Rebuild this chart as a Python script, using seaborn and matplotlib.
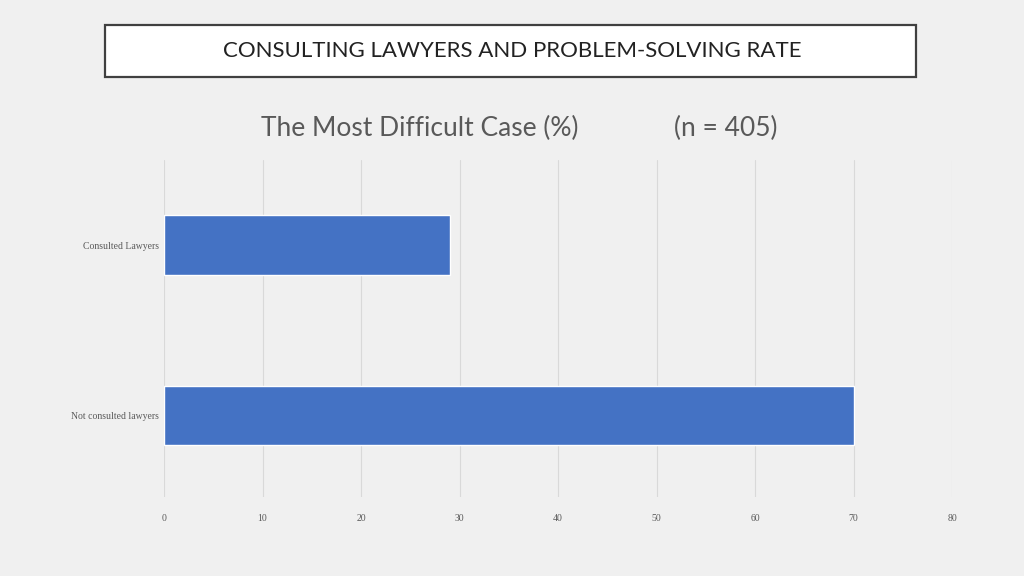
import matplotlib
matplotlib.use("Agg")
import matplotlib.pyplot as plt
import pandas as pd
import seaborn as sns
from matplotlib.patches import Rectangle

categories = ["Consulted Lawyers", "Not consulted lawyers"]
values = [29, 70]
x_ticks = [0, 10, 20, 30, 40, 50, 60, 70, 80]

df = pd.DataFrame({"group": categories, "pct": values})

sns.set_theme(style="white")
fig = plt.figure(figsize=(10.24, 5.76), dpi=100, facecolor="#f0f0f0")

# header box
fig.patches.append(Rectangle((105 / 1024, 1 - 77 / 576), 811 / 1024, 52 / 576,
                             transform=fig.transFigure, facecolor="white",
                             edgecolor="#404040", linewidth=1.6))
fig.text(0.5, 1 - 51 / 576, "CONSULTING LAWYERS AND PROBLEM-SOLVING RATE",
         ha="center", va="center", fontsize=16, color="#222222",
         family="Lato")

fig.text(0.41, 1 - 128 / 576, "The Most Difficult Case (%)", ha="center",
         va="center", fontsize=19, color="#595959", family="Lato")
fig.text(0.709, 1 - 128 / 576, "(n = 405)", ha="center",
         va="center", fontsize=19, color="#595959", family="Lato")

ax = fig.add_axes([164 / 1024, 1 - 497 / 576, 788 / 1024, 337 / 576])
ax.set_facecolor("#f0f0f0")
sns.barplot(data=df, x="pct", y="group", color="#4472c4", width=0.35,
            saturation=1, ax=ax)
ax.set_xlim(0, 80)
ax.set_ylim(1.48, -0.5)
ax.set_xticks(x_ticks)
ax.grid(axis="x", color="#d9d9d9", linewidth=0.8)
ax.set_axisbelow(True)
for s in ax.spines.values():
    s.set_visible(False)
ax.set_xlabel("")
ax.set_ylabel("")
ax.tick_params(axis="both", length=0, labelsize=7, labelcolor="#595959")
ax.tick_params(axis="x", pad=12)
for lab in ax.get_xticklabels() + ax.get_yticklabels():
    lab.set_family("Liberation Serif")

fig.savefig("out.png", dpi=100, facecolor=fig.get_facecolor())
